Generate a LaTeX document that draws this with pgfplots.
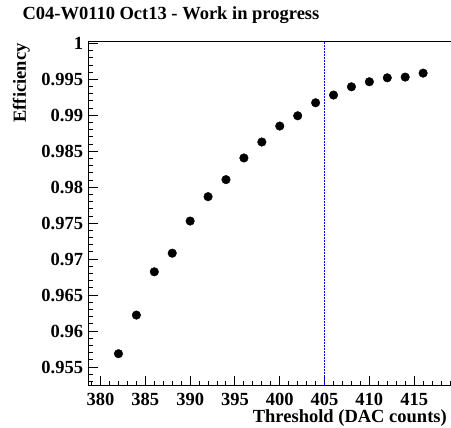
\documentclass[border=0pt]{standalone}
\usepackage{fontspec}
\setmainfont{Liberation Serif}
\usepackage{pgfplots}
\pgfplotsset{compat=1.18}
\newcommand{\rootfont}{\fontsize{18.5bp}{22bp}\selectfont\bfseries}
\newcommand{\tl}[1]{\textbf{#1}}
\begin{document}
\begin{tikzpicture}[x=1bp,y=1bp]
\begin{axis}[
  at={(88bp,42.3bp)}, anchor=south west,
  width=365.6bp, height=343.7bp, scale only axis,
  xmin=378.6, xmax=419.4, ymin=0.9524, ymax=1.0002,
  axis line style={line width=1bp},
  every tick/.style={black, line width=1bp},
  tick align=inside,
  xtick pos=left, ytick pos=left,
  major tick length=10bp, minor tick length=5bp,
  xtick={380,385,390,395,400,405,410,415},
  xticklabels={\tl{380},\tl{385},\tl{390},\tl{395},\tl{400},\tl{405},\tl{410},\tl{415}},
  minor xtick={379,380,...,419},
  ytick={0.955,0.96,0.965,0.97,0.975,0.98,0.985,0.99,0.995,1},
  yticklabels={\tl{0.955},\tl{0.96},\tl{0.965},\tl{0.97},\tl{0.975},\tl{0.98},\tl{0.985},\tl{0.99},\tl{0.995},\tl{1}},
  minor ytick={0.953,0.954,...,1.0001},
  /pgf/number format/assume math mode=true,
  tick label style={font=\rootfont},
  xticklabel style={anchor=north, inner sep=0pt, yshift=-7.6bp},
  yticklabel style={anchor=east, inner sep=0pt, xshift=-4.7bp},
]
\addplot[blue, line width=0.8bp, dash pattern=on 2bp off 1bp] coordinates {(405,0.9524) (405,1.0002)};
\addplot[only marks, mark=*, mark size=4.3bp, black] coordinates {
(382,0.95685) (384,0.96222) (386,0.96824) (388,0.97083) (390,0.97530)
(392,0.97869) (394,0.98106) (396,0.98407) (398,0.98629) (400,0.98851)
(402,0.98994) (404,0.99175) (406,0.99282) (408,0.99397) (410,0.99467)
(412,0.99522) (414,0.99532) (416,0.99587)
};
\end{axis}
\node[anchor=base west, inner sep=0pt, font=\rootfont] at (22.3bp,408.7bp) {C04-W0110 Oct13 - Work in progress};
\node[anchor=base east, inner sep=0pt, rotate=90, font=\rootfont] at (25.8bp,384.7bp) {Efficiency};
\node[anchor=base east, inner sep=0pt, font=\rootfont] at (447bp,5.2bp) {Threshold (DAC counts)};
\pgfresetboundingbox
\useasboundingbox (0,0) rectangle (451bp,428bp);
\end{tikzpicture}
\end{document}
